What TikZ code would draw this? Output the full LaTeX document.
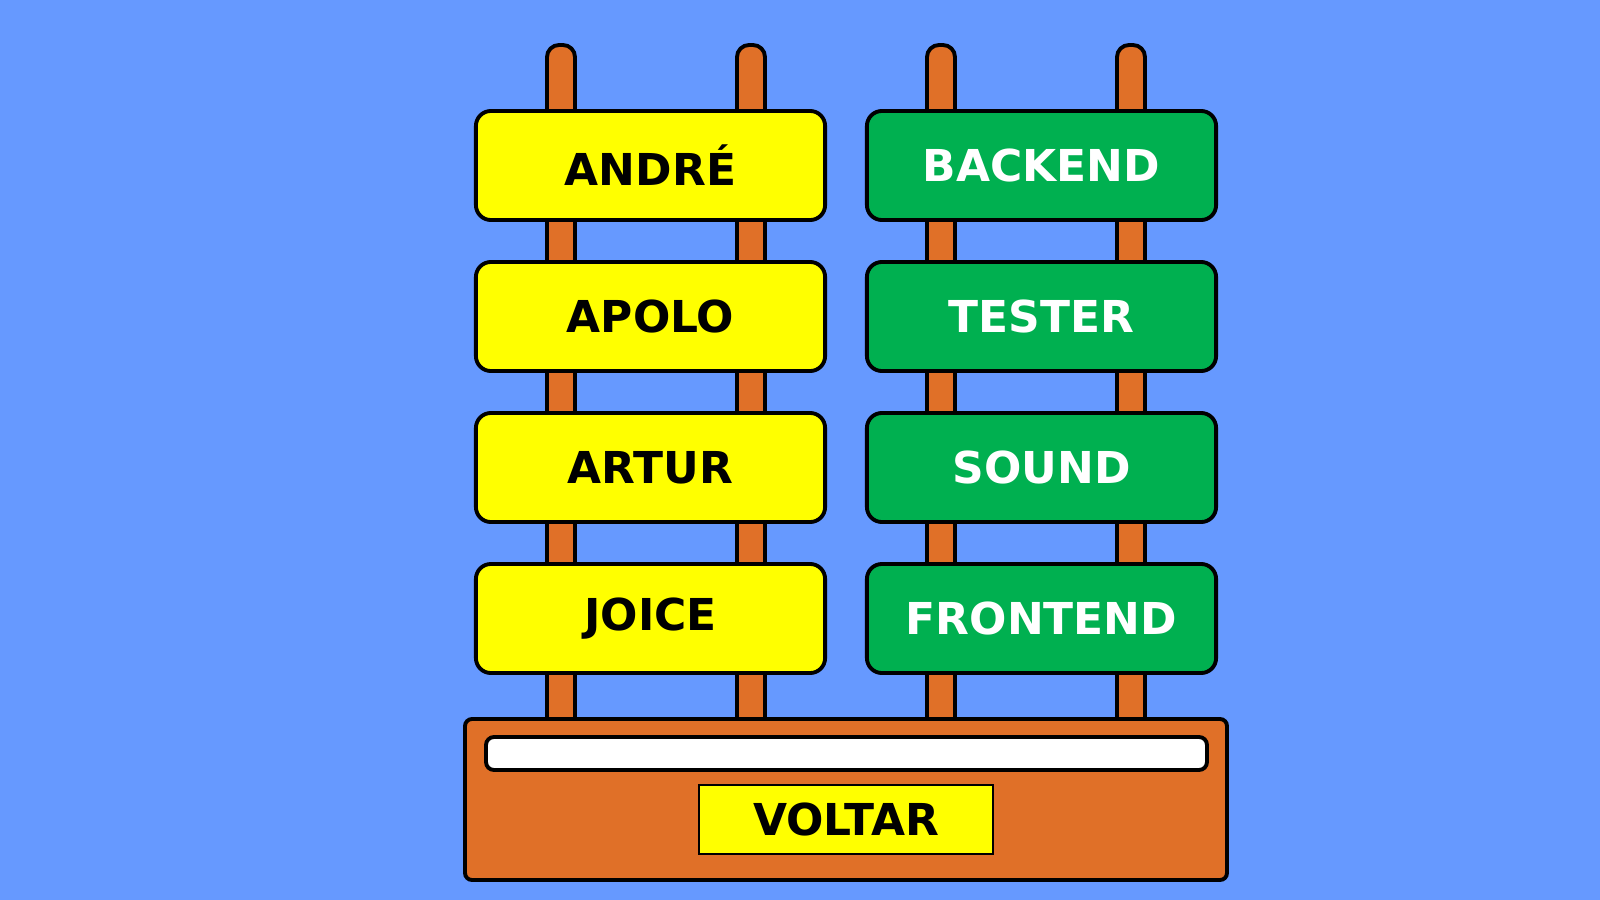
\documentclass[tikz,border=0pt]{standalone}
\usepackage{fontspec}
\setmainfont{DejaVu Sans}
\usepackage{tikz}
\usetikzlibrary{positioning}
\definecolor{skyblue}{RGB}{102,153,255}
\definecolor{signyellow}{RGB}{255,255,0}
\definecolor{signgreen}{RGB}{0,176,80}
\definecolor{woodorange}{RGB}{224,112,40}
\tikzset{
  namesign/.style={draw=black, line width=1.1pt, fill=signyellow, rounded corners=0.15cm,
    minimum width=3.49cm, minimum height=1.09cm, text=black,
    font=\fontsize{12.5}{15}\selectfont\bfseries},
  rolesign/.style={namesign, fill=signgreen, text=white},
  post/.style={draw=black, line width=1.1pt, fill=woodorange, rounded corners=0.12cm}
}
\begin{document}
\begin{tikzpicture}[x=0.01cm, y=-0.01cm]
        \useasboundingbox (0,0) rectangle (1600,900);
        \fill[skyblue] (0,0) rectangle (1600,900);
        % Posts
        \draw[post] (547,45) rectangle (575,730);
        \draw[post] (737,45) rectangle (765,730);
        \draw[post] (927,45) rectangle (955,730);
        \draw[post] (1117,45) rectangle (1145,730);
        % Signs with names
        \node[namesign] (andre) at (650.5,165.5) {ANDRÉ};
        \node[namesign] (apolo) at (650.5,316.5) {APOLO};
        \node[namesign] (artur) at (650.5,467.5) {ARTUR};
        \node[namesign] (joice) at (650.5,618.5) {JOICE};
        % Signs with roles
        \node[rolesign] (backend) at (1041.5,165.5) {BACKEND};
        \node[rolesign] (tester) at (1041.5,316.5) {TESTER};
        \node[rolesign] (sound) at (1041.5,467.5) {SOUND};
        \node[rolesign] (frontend) at (1041.5,618.5) {FRONTEND};
        % Base
        \draw[draw=black, line width=1.1pt, fill=woodorange, rounded corners=0.07cm]
            (465,719) rectangle (1227,880);
        \draw[draw=black, line width=1.1pt, fill=white, rounded corners=0.08cm]
            (486,737) rectangle (1207,770);
        \node[draw=black, line width=0.7pt, fill=signyellow, minimum width=2.94cm,
            minimum height=0.69cm, font=\fontsize{12.5}{15}\selectfont\bfseries]
            (voltar) at (846,819.5) {VOLTAR};
    \end{tikzpicture}
\end{document}
